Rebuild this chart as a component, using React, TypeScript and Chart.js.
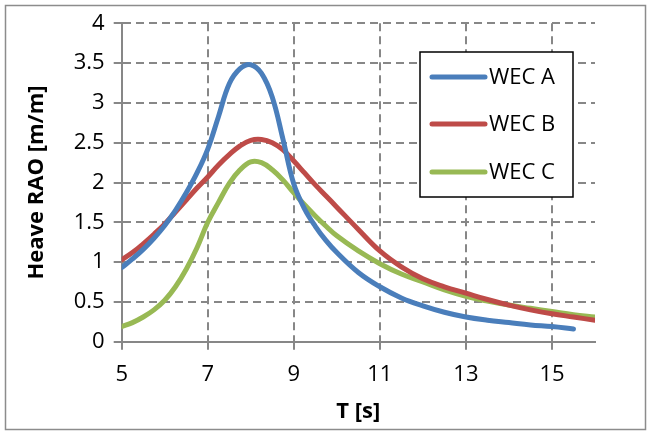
import React, { useEffect, useRef } from "react";
import { Chart, registerables } from "chart.js";

Chart.register(...registerables);

const SERIES_NAMES = ["WEC A", "WEC B", "WEC C"];
const SERIES_COLORS = ["#4A7EBB", "#BE4B48", "#98B954"];

const T_A = [5, 5.25, 5.5, 5.75, 6, 6.25, 6.5, 6.75, 7, 7.25, 7.5, 7.75, 8, 8.25, 8.5, 8.75, 9, 9.25, 9.5, 9.75, 10, 10.5, 11, 11.5, 12, 12.5, 13, 13.5, 14, 14.5, 15, 15.5];
const RAO_A = [0.93, 1.04, 1.16, 1.3, 1.46, 1.65, 1.87, 2.12, 2.42, 2.83, 3.24, 3.43, 3.48, 3.37, 3.07, 2.54, 1.98, 1.67, 1.45, 1.27, 1.12, 0.87, 0.69, 0.55, 0.45, 0.37, 0.31, 0.27, 0.24, 0.21, 0.19, 0.16];

const T_B = [5, 5.25, 5.5, 5.75, 6, 6.25, 6.5, 6.75, 7, 7.25, 7.5, 7.75, 8, 8.25, 8.5, 8.75, 9, 9.25, 9.5, 9.75, 10, 10.5, 11, 11.5, 12, 12.5, 13, 13.5, 14, 14.5, 15, 15.5, 16];
const RAO_B = [1.03, 1.12, 1.23, 1.35, 1.48, 1.63, 1.78, 1.93, 2.07, 2.22, 2.35, 2.46, 2.53, 2.54, 2.5, 2.41, 2.27, 2.12, 1.97, 1.83, 1.69, 1.41, 1.14, 0.94, 0.79, 0.69, 0.61, 0.53, 0.46, 0.4, 0.35, 0.31, 0.27];

const T_C = [5, 5.25, 5.5, 5.75, 6, 6.25, 6.5, 6.75, 7, 7.25, 7.5, 7.75, 8, 8.25, 8.5, 8.75, 9, 9.25, 9.5, 9.75, 10, 10.5, 11, 11.5, 12, 12.5, 13, 13.5, 14, 14.5, 15, 15.5, 16];
const RAO_C = [0.19, 0.24, 0.31, 0.4, 0.52, 0.69, 0.91, 1.18, 1.5, 1.75, 1.99, 2.16, 2.26, 2.25, 2.16, 2.03, 1.87, 1.72, 1.58, 1.45, 1.33, 1.14, 0.98, 0.85, 0.75, 0.65, 0.57, 0.51, 0.46, 0.42, 0.38, 0.34, 0.31];

const X_TICKS = [5, 7, 9, 11, 13, 15];
const X_MIN = 5;
const X_MAX = 16;
const Y_MIN = 0;
const Y_MAX = 4;
const Y_STEP = 0.5;
const X_TITLE = "T [s]";
const Y_TITLE = "Heave RAO [m/m]";

const FONT = "'Open Sans', 'DejaVu Sans', sans-serif";
const GRID = "#878787";

const toPoints = (xs: number[], ys: number[]) => xs.map((x, i) => ({ x, y: ys[i] }));

const frameAndLegend = {
  id: "frameAndLegend",
  beforeDraw(chart: any) {
    const ctx = chart.ctx;
    ctx.save();
    ctx.fillStyle = "#ffffff";
    ctx.fillRect(0, 0, chart.width, chart.height);
    ctx.restore();
  },
  afterDraw(chart: any) {
    const ctx = chart.ctx;
    ctx.save();
    ctx.strokeStyle = "#8c8c8c";
    ctx.lineWidth = 1.5;
    ctx.strokeRect(5.5, 5.5, 640, 424);
    const bx = 420, by = 52, bw = 153, bh = 145;
    ctx.fillStyle = "#ffffff";
    ctx.fillRect(bx, by, bw, bh);
    ctx.strokeStyle = "#000000";
    ctx.lineWidth = 1.5;
    ctx.strokeRect(bx, by, bw, bh);
    const rows = [77, 124, 172];
    chart.data.datasets.forEach((ds: any, i: number) => {
      const y = rows[i];
      ctx.strokeStyle = ds.borderColor;
      ctx.lineWidth = 5;
      ctx.lineCap = "round";
      ctx.beginPath();
      ctx.moveTo(432, y);
      ctx.lineTo(485, y);
      ctx.stroke();
      ctx.fillStyle = "#000000";
      ctx.font = `22px ${FONT}`;
      ctx.textBaseline = "middle";
      ctx.textAlign = "left";
      ctx.fillText(ds.label, 489, y + 1);
    });
    ctx.restore();
  },
};

export default function App() {
  const ref = useRef<HTMLCanvasElement>(null);
  useEffect(() => {
    const canvas = ref.current;
    if (!canvas) return;
    const xs = [T_A, T_B, T_C];
    const ys = [RAO_A, RAO_B, RAO_C];
    const chart = new Chart(canvas, {
      type: "line",
      data: {
        datasets: SERIES_NAMES.map((name, i) => ({
          label: name,
          data: toPoints(xs[i], ys[i]),
          borderColor: SERIES_COLORS[i],
          backgroundColor: SERIES_COLORS[i],
          borderWidth: 5,
          pointRadius: 0,
          pointHoverRadius: 0,
          tension: 0.4,
          borderCapStyle: "round",
          borderJoinStyle: "round",
          fill: false,
        })),
      },
      options: {
        responsive: false,
        animation: false,
        events: [],
        layout: { padding: { left: 5, top: 23.3, right: 55, bottom: 2 } },
        plugins: {
          legend: { display: false },
          tooltip: { enabled: false },
        },
        scales: {
          x: {
            type: "linear",
            min: X_MIN,
            max: X_MAX,
            afterBuildTicks: (scale: any) => {
              scale.ticks = X_TICKS.map((v) => ({ value: v }));
            },
            afterFit: (scale: any) => {
              scale.height = 88.3;
            },
            ticks: {
              color: "#000000",
              font: { family: FONT, size: 22 },
              padding: 12,
              maxRotation: 0,
              autoSkip: false,
              callback: (v: any) => String(Number(v)),
            },
            grid: {
              color: GRID,
              lineWidth: 2,
              tickLength: 8,
              tickColor: GRID,
              tickWidth: 2,
              tickBorderDash: [8, 5],
            },
            border: { display: true, color: GRID, width: 2, dash: [8, 5] },
            title: {
              display: true,
              text: X_TITLE,
              color: "#000000",
              font: { family: FONT, size: 22, weight: "bold" },
              padding: { top: 0, bottom: 5 },
            },
          },
          y: {
            type: "linear",
            min: Y_MIN,
            max: Y_MAX,
            afterFit: (scale: any) => {
              scale.width = 116.7;
            },
            ticks: {
              stepSize: Y_STEP,
              color: "#000000",
              font: { family: FONT, size: 22 },
              padding: 9,
              callback: (v: any) => String(Number(v)),
            },
            grid: {
              color: GRID,
              lineWidth: 2,
              tickLength: 8,
              tickColor: GRID,
              tickWidth: 2,
              tickBorderDash: [8, 5],
            },
            border: { display: true, color: GRID, width: 2, dash: [8, 5] },
            title: {
              display: true,
              text: Y_TITLE,
              color: "#000000",
              font: { family: FONT, size: 22, weight: "bold" },
              padding: { top: 19, bottom: 0 },
            },
          },
        },
      },
      plugins: [frameAndLegend],
    } as any);
    return () => chart.destroy();
  }, []);
  return (
    <div style={{ position: "fixed", left: 0, top: 0, width: 650, height: 432, background: "#fff" }}>
      <canvas ref={ref} width={650} height={432} style={{ display: "block", width: 650, height: 432 }} />
    </div>
  );
}
